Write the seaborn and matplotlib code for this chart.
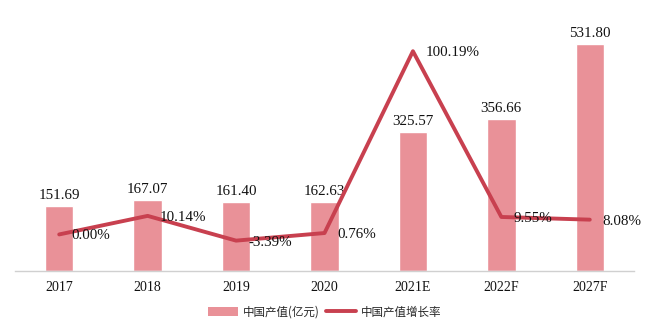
import matplotlib
matplotlib.use("Agg")
import matplotlib.pyplot as plt
import seaborn as sns
import pandas as pd
from matplotlib.patches import Patch
from matplotlib.lines import Line2D

# Chart data
years = ["2017", "2018", "2019", "2020", "2021E", "2022F", "2027F"]
output_value = [151.69, 167.07, 161.40, 162.63, 325.57, 356.66, 531.80]
growth_rate = [0.00, 10.14, -3.39, 0.76, 100.19, 9.55, 8.08]
legend_labels = ["中国产值(亿元)", "中国产值增长率"]

bar_color = "#E99198"
line_color = "#C8404F"
serif = ["Liberation Serif", "DejaVu Serif"]
cjk = ["Noto Sans CJK SC", "DejaVu Sans"]

sns.set_theme(style="white")
plt.rcParams["font.family"] = serif

df = pd.DataFrame({"year": years, "value": output_value, "rate": growth_rate})

fig = plt.figure(figsize=(6.49, 3.24), dpi=100)
ax = fig.add_axes([15 / 649, 53 / 324, 619 / 649, 256 / 324])

sns.barplot(data=df, x="year", y="value", color=bar_color, width=0.32,
            saturation=1, ax=ax)
ax.set_xlim(-0.5, len(years) - 0.5)
ax.set_ylim(0, 600)
ax.set_xlabel("")
ax.set_ylabel("")
ax.set_yticks([])
for s in ["top", "left", "right"]:
    ax.spines[s].set_visible(False)
ax.spines["bottom"].set_color("#D0D0D0")
ax.spines["bottom"].set_linewidth(1.0)
ax.tick_params(axis="x", length=0, pad=7, labelsize=10, labelcolor="#111111")

for i, v in enumerate(output_value):
    ax.text(i, v + 9, f"{v:.2f}", ha="center", va="bottom",
            fontsize=10.8, color="#111111")

ax2 = ax.twinx()
sns.lineplot(data=df, x="year", y="rate", color=line_color, linewidth=2.8,
             ax=ax2, sort=False)
ax2.set_ylim(-20, 120)
ax2.set_xlim(-0.5, len(years) - 0.5)
ax2.set_ylabel("")
ax2.set_yticks([])
for s in ["top", "left", "right", "bottom"]:
    ax2.spines[s].set_visible(False)

for i, r in enumerate(growth_rate):
    ax2.text(i + 0.14, r - 0.8, f"{r:.2f}%", ha="left", va="center",
             fontsize=10.8, color="#111111")

handles = [Patch(facecolor=bar_color, edgecolor="none"),
           Line2D([0], [0], color=line_color, linewidth=2.8)]
fig.legend(handles, legend_labels, loc="center", bbox_to_anchor=(0.5, 12 / 324),
           ncol=2, frameon=False, prop={"family": cjk, "size": 8.3},
           handlelength=2.6, handleheight=0.8, columnspacing=0.6,
           handletextpad=0.4)

fig.savefig("out.png", dpi=100)
